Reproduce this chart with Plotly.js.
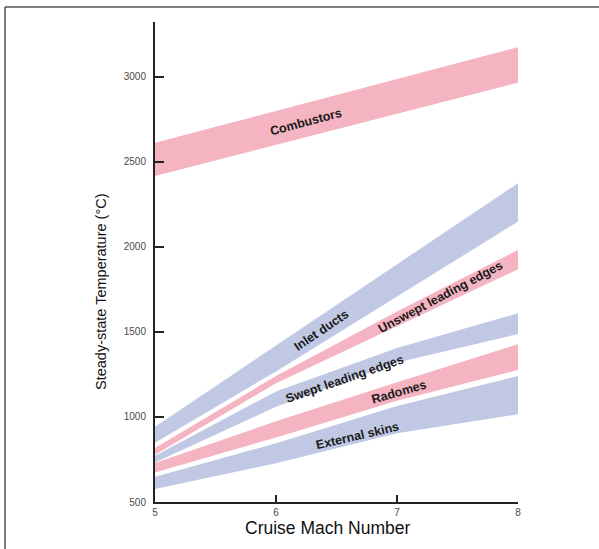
<!DOCTYPE html>
<html>
<head>
<meta charset="utf-8">
<script src="https://cdn.plot.ly/plotly-3.0.1.min.js"></script>
<style>
html,body{margin:0;padding:0;background:#fff;}
#chart{width:599px;height:549px;}
</style>
</head>
<body>
<div id="chart"></div>
<script>
// Cruise Mach number sample points
const mach = [5, 6, 7, 8];

// Band limits (°C), upper and lower edge per band
const combustorsUpper = [2613, 2800, 2988, 3175];
const combustorsLower = [2418, 2600, 2783, 2966];
const inletUpper = [943, 1420, 1898, 2375];
const inletLower = [849, 1268, 1708, 2149];
const unsweptUpper = [818, 1241, 1620, 1982];
const unsweptLower = [778, 1198, 1535, 1869];
const sweptUpper = [772, 1150, 1405, 1610];
const sweptLower = [732, 1060, 1320, 1488];
const radomesUpper = [729, 975, 1205, 1428];
const radomesLower = [673, 880, 1095, 1276];
const skinsUpper = [649, 845, 1065, 1241];
const skinsLower = [577, 728, 905, 1016];

// Labels
const bandNames = ["Combustors", "Inlet ducts", "Unswept leading edges", "Swept leading edges", "Radomes", "External skins"];
const labelX = [6.25, 6.38, 7.36, 6.57, 7.02, 6.67];
const labelY = [2737, 1512, 1705, 1222, 1145, 890];
const labelAngle = [-15, -34, -28, -19, -16, -13];

const yTicks = [500, 1000, 1500, 2000, 2500, 3000];
const xTicks = [5, 6, 7, 8];

const PINK = "#f5b4c2";
const BLUE = "#c1c8e4";

const bands = [
  {u: combustorsUpper, l: combustorsLower, c: PINK},
  {u: inletUpper, l: inletLower, c: BLUE},
  {u: unsweptUpper, l: unsweptLower, c: PINK},
  {u: sweptUpper, l: sweptLower, c: BLUE},
  {u: radomesUpper, l: radomesLower, c: PINK},
  {u: skinsUpper, l: skinsLower, c: BLUE}
];

const traces = bands.map((b, i) => ({
  type: "scatter",
  mode: "lines",
  x: mach.concat(mach.slice().reverse()),
  y: b.u.concat(b.l.slice().reverse()),
  fill: "toself",
  fillcolor: b.c,
  line: {width: 0, color: b.c},
  hoverinfo: "skip",
  name: bandNames[i],
  showlegend: false
}));

const FONT = "Liberation Sans, Arial, sans-serif";

const annotations = bandNames.map((n, i) => ({
  x: labelX[i], y: labelY[i], xref: "x", yref: "y",
  text: "<b>" + n + "</b>",
  showarrow: false,
  textangle: labelAngle[i],
  font: {family: FONT, size: 12.5, color: "#1a1a1a"}
}));

const L = 155, R = 81, T = 22, B = 47;
const pw = 599 - L - R, ph = 549 - T - B;
const fx = (5 - L) / pw;
const fy = (549 - B - 7) / ph;

// axis titles as annotations to place them where the reference has them
annotations.push({
  xref: "paper", yref: "paper",
  x: (328 - L) / pw, y: (549 - B - 528) / ph,
  xanchor: "center", yanchor: "middle",
  text: "Cruise Mach Number", showarrow: false,
  font: {family: FONT, size: 17.5, color: "#111"}
});
annotations.push({
  xref: "paper", yref: "paper",
  x: (101 - L) / pw, y: (549 - B - 292) / ph,
  xanchor: "center", yanchor: "middle",
  text: "Steady-state Temperature (°C)", showarrow: false, textangle: -90,
  font: {family: FONT, size: 14.5, color: "#111"}
});

const layout = {
  width: 599, height: 549,
  margin: {l: L, r: R, t: T, b: B, pad: 0},
  paper_bgcolor: "#fff",
  plot_bgcolor: "#fff",
  showlegend: false,
  xaxis: {
    range: [5, 8],
    tickvals: xTicks,
    ticktext: xTicks.map(String),
    ticks: "inside", ticklen: 7, tickwidth: 2, tickcolor: "#222",
    showline: true, linecolor: "#222", linewidth: 2,
    showgrid: false, zeroline: false,
    tickfont: {family: FONT, size: 10, color: "#4a4a4a"},
    ticklabelstandoff: 0,
    fixedrange: true
  },
  yaxis: {
    range: [500, 3323],
    tickvals: yTicks,
    ticktext: yTicks.map(String),
    ticks: "inside", ticklen: 9, tickwidth: 2, tickcolor: "#222",
    showline: true, linecolor: "#222", linewidth: 2,
    showgrid: false, zeroline: false,
    tickfont: {family: FONT, size: 10, color: "#4a4a4a"},
    ticklabelstandoff: 5,
    fixedrange: true
  },
  annotations: annotations,
  shapes: [
    {type: "line", xref: "paper", yref: "paper", x0: fx, x1: fx, y0: -0.2, y1: fy,
     line: {color: "#555", width: 1.5}},
    {type: "line", xref: "paper", yref: "paper", x0: fx, x1: 1.3, y0: fy, y1: fy,
     line: {color: "#555", width: 1.5}}
  ]
};

Plotly.newPlot("chart", traces, layout, {displayModeBar: false, staticPlot: true});
</script>
</body>
</html>
